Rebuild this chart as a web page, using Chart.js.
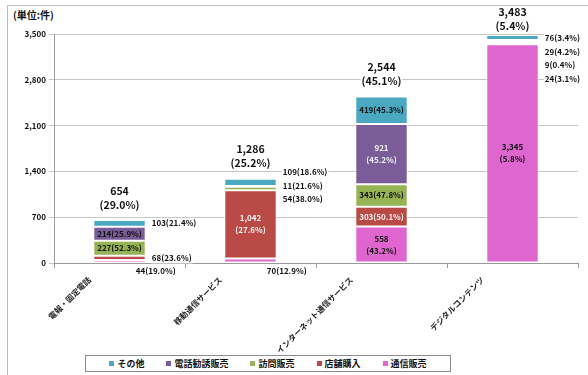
<!DOCTYPE html>
<html lang="ja">
<head>
<meta charset="utf-8">
<title>販売購入形態別の相談件数</title>
<script src="https://cdn.jsdelivr.net/npm/chart.js@4.4.1/dist/chart.umd.min.js"></script>
<style>
  html, body { margin: 0; padding: 0; background: #fff; }
  #wrap { position: relative; width: 588px; height: 375px; overflow: hidden;
          font-family: "Noto Sans CJK JP", sans-serif; }
  #frame { position: absolute; left: 7px; top: 5px; width: 620px; height: 400px;
           border-left: 1px solid #bcbcbc; border-top: 1px solid #bcbcbc; }
  #unit { position: absolute; left: 13px; top: 7px; font-size: 10px; font-weight: bold; color: #111; }
  canvas { position: absolute; left: 0; top: 0; }
  #legend { position: absolute; left: 85px; top: 355px; width: 364px; height: 15px; background: #fff;
            border: 1px solid #8c8c8c; display: flex; justify-content: center; align-items: center;
            gap: 22px; font-size: 9px; font-weight: bold; color: #111; }
  #legend span.box { display: inline-block; width: 5px; height: 5px; margin-right: 3px; vertical-align: 1px; }
</style>
</head>
<body>
<div id="wrap">
  <div id="frame"></div>
  <div id="unit">(単位:件)</div>
  <canvas id="chart" width="588" height="375"></canvas>
  <div id="legend"></div>
</div>
<script>
// categories and series, bottom of the stack first
const categories = ['電報・固定電話', '移動通信サービス', 'インターネット通信サービス', 'デジタルコンテンツ'];

const mailOrder = [44, 70, 558, 3345];
const mailOrderPct = [19.0, 12.9, 43.2, 5.8];
const storePurchase = [68, 1042, 303, 24];
const storePurchasePct = [23.6, 27.6, 50.1, 3.1];
const doorToDoor = [227, 54, 343, 9];
const doorToDoorPct = [52.3, 38.0, 47.8, 0.4];
const phoneSales = [214, 11, 921, 29];
const phoneSalesPct = [25.9, 21.6, 45.2, 4.2];
const others = [103, 109, 419, 76];
const othersPct = [21.4, 18.6, 45.3, 3.4];

// totals printed above each bar
const totals = [654, 1286, 2544, 3483];
const totalsPct = [29.0, 25.2, 45.1, 5.4];

const yTicks = [0, 700, 1400, 2100, 2800, 3500];

const FONT = '"Noto Sans CJK JP", sans-serif';
Chart.defaults.font.family = FONT;
Chart.defaults.font.weight = 'bold';
Chart.defaults.color = '#111';

function series(label, data, pct, color) {
  return {
    label, data, pct,
    backgroundColor: color,
    borderColor: '#ffffff',
    borderWidth: 1,
    borderSkipped: false,
    barPercentage: 0.4,
    categoryPercentage: 1.0
  };
}

const datasets = [
  series('通信販売', mailOrder, mailOrderPct, '#e066cf'),
  series('店舗購入', storePurchase, storePurchasePct, '#b94a46'),
  series('訪問販売', doorToDoor, doorToDoorPct, '#96b456'),
  series('電話勧誘販売', phoneSales, phoneSalesPct, '#7a5c98'),
  series('その他', others, othersPct, '#4aa8c0')
];

function fmt(n) {
  return n.toLocaleString('en-US');
}

// text on a white patch so grid lines stop at the label
function boxedText(ctx, text, x, y, align) {
  const w = ctx.measureText(text).width;
  const left = align === 'left' ? x : x - w / 2;
  ctx.fillStyle = '#fff';
  ctx.fillRect(left - 1, y - 5.5, w + 2, 11);
  ctx.fillStyle = '#111';
  ctx.textAlign = align;
  ctx.fillText(text, x, y);
}

/* =========================
   VALUE LABELS
========================= */
const segmentLabels = {
  id: 'segmentLabels',
  afterDatasetsDraw(chart) {
    const { ctx, chartArea } = chart;
    const metas = chart.data.datasets.map((_, d) => chart.getDatasetMeta(d));
    const GAP = 13.5;

    ctx.save();
    ctx.textBaseline = 'middle';

    categories.forEach((_, i) => {
      ctx.font = 'bold 8px ' + FONT;
      const outside = [];

      // top series first, so labels pushed outside stack downward
      for (let d = metas.length - 1; d >= 0; d--) {
        const bar = metas[d].data[i];
        const ds = chart.data.datasets[d];
        const h = bar.base - bar.y;
        const mid = bar.y + h / 2;
        const val = fmt(ds.data[i]);
        const pct = '(' + ds.pct[i].toFixed(1) + '%)';
        const twoLine = h >= 30;
        const light = d === 1 || (d === 3 && twoLine);

        if (twoLine) {
          ctx.fillStyle = light ? '#f2f2f2' : '#111';
          ctx.textAlign = 'center';
          ctx.fillText(val, bar.x, mid - 6);
          ctx.fillText(pct, bar.x, mid + 6);
        } else if (h >= 12) {
          ctx.fillStyle = light ? '#f2f2f2' : '#111';
          ctx.textAlign = 'center';
          ctx.fillText(val + pct, bar.x, mid);
        } else if (d === 0) {
          // thin bottom slice: label goes under the axis
          boxedText(ctx, val + pct, bar.x + bar.width / 2 - 10, chartArea.bottom + 8, 'left');
        } else {
          outside.push({ text: val + pct, mid, x: bar.x + bar.width / 2 + 6 });
        }
      }

      // merge overlapping outside labels into evenly spaced groups
      const groups = [];
      outside.forEach(l => {
        groups.push({ items: [l], center: l.mid });
        while (groups.length > 1) {
          const b = groups[groups.length - 1];
          const a = groups[groups.length - 2];
          const aBottom = a.center + (a.items.length - 1) * GAP / 2;
          const bTop = b.center - (b.items.length - 1) * GAP / 2;
          if (bTop - aBottom >= GAP) break;
          const items = a.items.concat(b.items);
          const center = items.reduce((s, it) => s + it.mid, 0) / items.length;
          groups.splice(-2, 2, { items, center });
        }
      });
      let minY = chartArea.top + 4;
      groups.forEach(g => {
        let y = Math.max(g.center - (g.items.length - 1) * GAP / 2, minY);
        g.items.forEach(it => {
          boxedText(ctx, it.text, it.x, y, 'left');
          y += GAP;
        });
        minY = y;
      });

      // total + share above the stack
      const top = Math.min(...metas.map(m => m.data[i].y));
      const x = metas[0].data[i].x;
      const y2 = Math.max(top - 15.5, chartArea.top - 7.5);
      ctx.font = 'bold 10.5px ' + FONT;
      boxedText(ctx, fmt(totals[i]), x, y2 - 14, 'center');
      boxedText(ctx, '(' + totalsPct[i].toFixed(1) + '%)', x, y2, 'center');
    });

    ctx.restore();
  }
};

/* =========================
   CHART
========================= */
const chart = new Chart(document.getElementById('chart'), {
  type: 'bar',
  data: { labels: categories, datasets },
  options: {
    responsive: false,
    animation: false,
    devicePixelRatio: 1,
    layout: { padding: { top: 34, right: 10, left: 0, bottom: 0 } },
    plugins: { legend: { display: false }, tooltip: { enabled: false } },
    scales: {
      x: {
        stacked: true,
        offset: true,
        afterFit(scale) { scale.height = 112; },
        grid: { drawOnChartArea: false, tickLength: 5, color: '#9a9a9a' },
        border: { color: '#9a9a9a' },
        ticks: {
          autoSkip: false,
          minRotation: 45,
          maxRotation: 45,
          padding: 7,
          labelOffset: -30,
          font: { size: 8, weight: 'bold' },
          color: '#222'
        }
      },
      y: {
        stacked: true,
        min: 0,
        max: 3500,
        afterFit(scale) { scale.width = 54; },
        afterBuildTicks(scale) { scale.ticks = yTicks.map(v => ({ value: v })); },
        grid: { color: '#c4c4c4', tickLength: 5 },
        border: { color: '#9a9a9a' },
        ticks: { padding: 3, font: { size: 8, weight: 'bold' }, color: '#111' }
      }
    }
  },
  plugins: [segmentLabels]
});

// legend in the box under the chart, top series first
const legend = document.getElementById('legend');
chart.data.datasets.slice().reverse().forEach(ds => {
  const item = document.createElement('div');
  item.innerHTML = '<span class="box" style="background:' + ds.backgroundColor + '"></span>' + ds.label;
  legend.appendChild(item);
});
</script>
</body>
</html>
